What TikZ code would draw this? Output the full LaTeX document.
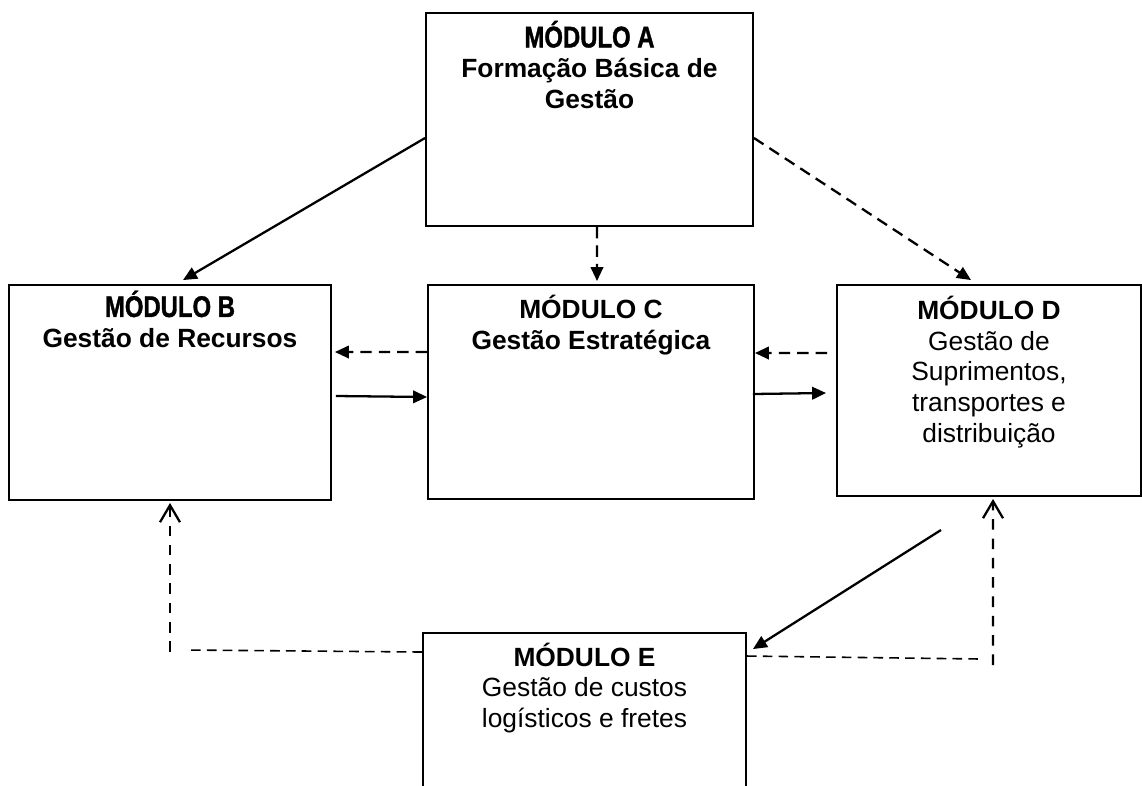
\documentclass[tikz,border=0pt]{standalone}
\usepackage{fontspec}
\setmainfont{Liberation Sans}
\newfontfamily\condfont[FakeStretch=0.8, FakeBold=1.2]{Liberation Sans Bold}
\usetikzlibrary{arrows.meta}

\begin{document}
\begin{tikzpicture}[x=0.02cm, y=-0.02cm,
    modbox/.style={draw, line width=1.1pt, rectangle, inner sep=0pt},
    modtext/.style={anchor=base, align=center, inner sep=0pt, font=\fontsize{15}{17.4}\selectfont},
    solidarrow/.style={line width=1.3pt, -{Triangle[length=0.28cm, width=0.25cm]}},
    dasharrow/.style={line width=1.3pt, dash pattern=on 6.5pt off 4pt, -{Triangle[length=0.28cm, width=0.25cm]}},
    openarrow/.style={line width=1.3pt, dash pattern=on 6pt off 5pt, -{Straight Barb[length=0.34cm, width=0.4cm]}},
    thindash/.style={line width=0.9pt, dash pattern=on 5.5pt off 3.5pt}]
            \useasboundingbox (0,0) rectangle (1142,785);
            \clip (0,0) rectangle (1142,785);

            \node[modbox, minimum width=6.54cm, minimum height=4.26cm] (A) at (589.5,119.5) {};
            \node[modbox, minimum width=6.44cm, minimum height=4.30cm] (B) at (170,392.5) {};
            \node[modbox, minimum width=6.52cm, minimum height=4.28cm] (C) at (591,392) {};
            \node[modbox, minimum width=6.08cm, minimum height=4.22cm] (D) at (989,390.5) {};
            \node[modbox, minimum width=6.46cm, minimum height=4.14cm] (E) at (584.5,736.5) {};

            % base = baseline of the last line
            \node[modtext] (tA) at ([yshift=-1.93cm]A.north) {{\condfont\fontsize{17}{17.4}\selectfont MÓDULO A}\\\textbf{Formação Básica de}\\\textbf{Gestão}};
            \node[modtext] (tB) at ([yshift=-1.27cm]B.north) {{\condfont\fontsize{17}{17.4}\selectfont MÓDULO B}\\\textbf{Gestão de Recursos}};
            \node[modtext] (tC) at ([yshift=-1.31cm]C.north) {\textbf{MÓDULO C}\\\textbf{Gestão Estratégica}};
            \node[modtext] (tD) at ([yshift=-3.16cm]D.north) {\textbf{MÓDULO D}\\Gestão de\\Suprimentos,\\transportes e\\distribuição};
            \node[modtext] (tE) at ([yshift=-1.91cm]E.north) {\textbf{MÓDULO E}\\Gestão de custos\\logísticos e fretes};

            \coordinate (dE) at (941,530);
            \coordinate (eB) at (186,650);
            \coordinate (eB2) at (170,652);
            \coordinate (eD) at (980,659);
            \coordinate (eD2) at (993,665);

            \draw[solidarrow] ([yshift=-0.37cm]A.west) -- ([xshift=0.26cm, yshift=0.08cm]B.north);
            \draw[dasharrow] ([xshift=0.15cm]A.south) -- ([xshift=0.12cm, yshift=0.06cm]C.north);
            \draw[dasharrow] ([yshift=-0.37cm]A.east) -- ([xshift=-0.36cm, yshift=0.08cm]D.north);
            \draw[dasharrow] ([yshift=0.8cm]C.west) -- ([xshift=0.06cm, yshift=0.81cm]B.east);
            \draw[solidarrow] ([xshift=0.08cm, yshift=-0.07cm]B.east) -- ([yshift=-0.1cm]C.west);
            \draw[dasharrow] ([xshift=-0.18cm, yshift=0.75cm]D.west) -- ([yshift=0.78cm]C.east);
            \draw[solidarrow] ([xshift=-0.04cm, yshift=-0.04cm]C.east) -- ([xshift=-0.2cm, yshift=-0.05cm]D.west);
            \draw[solidarrow] (dE) -- ([xshift=0.12cm, yshift=-0.34cm]E.north east);
            \draw[thindash] ([yshift=1.69cm]E.west) -- (eB);
            \draw[openarrow] (eB2) -- ([yshift=-0.04cm]B.south);
            \draw[thindash] ([yshift=1.61cm]E.east) -- (eD);
            \draw[openarrow] (eD2) -- ([xshift=0.08cm, yshift=-0.04cm]D.south);
        \end{tikzpicture}
\end{document}
